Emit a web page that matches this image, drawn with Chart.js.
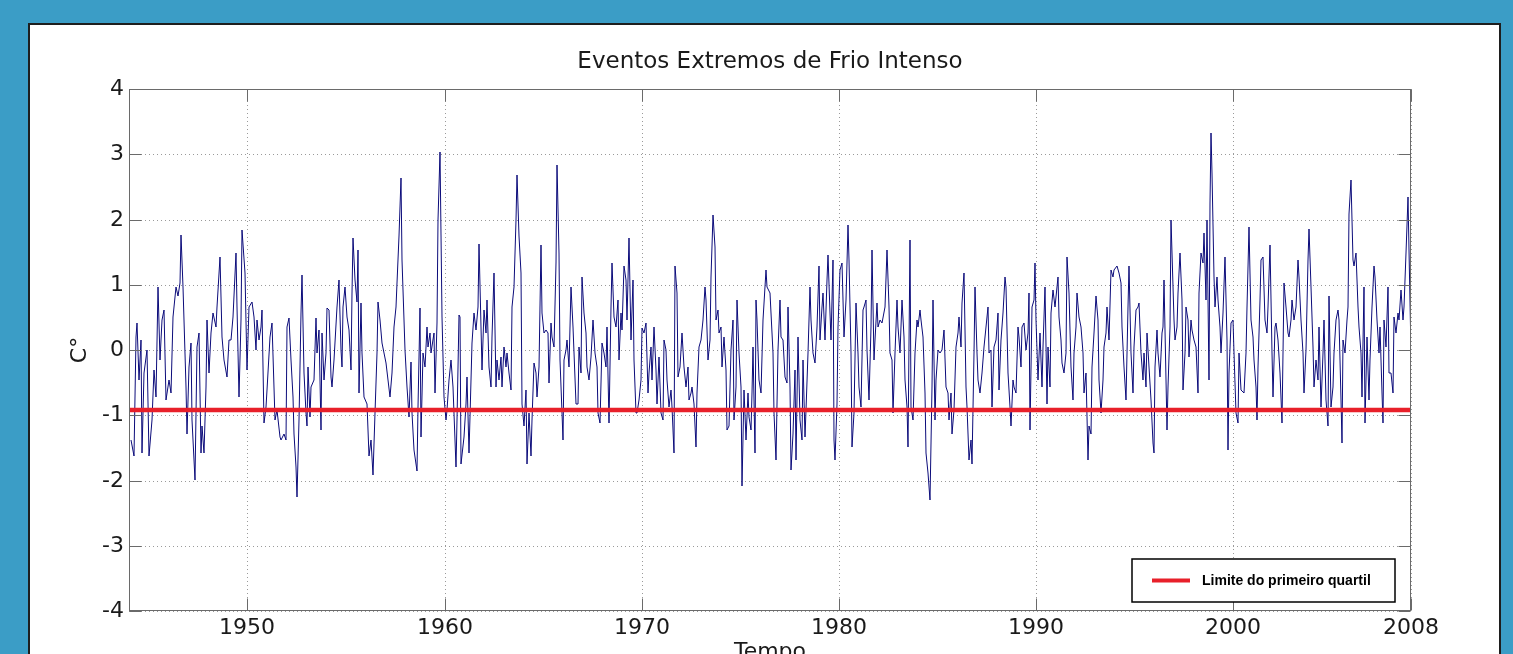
<!DOCTYPE html>
<html>
<head>
<meta charset="utf-8">
<script src="https://cdn.jsdelivr.net/npm/chart.js@4.4.1/dist/chart.umd.min.js"></script>
<style>
  html, body { margin: 0; padding: 0; width: 1513px; height: 654px; overflow: hidden; background: #3b9dc6; }
  #painel { position: absolute; left: 28px; top: 23px; width: 1469px; height: 700px; background: #fff; border: 2px solid #1e1e1e; }
  #grafico { position: absolute; left: 0; top: 0; }
</style>
</head>
<body>
<div id="painel"></div>
<canvas id="grafico" width="1513" height="654"></canvas>
<script>
const titulo = 'Eventos Extremos de Frio Intenso';
const rotuloX = 'Tempo';
const rotuloY = 'C°';
const ticksX = [1950, 1960, 1970, 1980, 1990, 2000, 2009];
const rotulosX = ['1950', '1960', '1970', '1980', '1990', '2000', '2008'];
const ticksY = [-4, -3, -2, -1, 0, 1, 2, 3, 4];
const limiteQuartil = -0.92;
const nomeLimite = 'Limite do primeiro quartil';

// anos (decimal) e anomalias
const anos = [
  1944.09,1944.26,1944.34,1944.42,1944.51,1944.59,1944.68,1944.76,1944.90,1945.02,
  1945.19,1945.27,1945.35,1945.47,1945.57,1945.69,1945.78,1945.86,1946.03,1946.11,
  1946.25,1946.37,1946.49,1946.59,1946.66,1946.76,1946.88,1946.96,1947.04,1947.13,
  1947.21,1947.33,1947.43,1947.55,1947.64,1947.72,1947.81,1947.89,1947.97,1948.06,
  1948.14,1948.28,1948.40,1948.48,1948.62,1948.73,1948.82,1948.95,1949.07,1949.19,
  1949.29,1949.41,1949.50,1949.58,1949.66,1949.75,1949.87,1949.97,1950.09,1950.22,
  1950.34,1950.43,1950.51,1950.59,1950.68,1950.76,1950.85,1950.93,1951.02,1951.14,
  1951.27,1951.39,1951.52,1951.66,
  1951.69,1951.86,1951.95,1952.03,1952.12,1952.20,1952.29,1952.37,1952.45,1952.54,
  1952.62,1952.71,1952.79,1952.88,1952.96,1953.01,1953.08,1953.18,1953.25,1953.38,
  1953.47,1953.55,1953.64,1953.69,1953.76,1953.81,1953.89,1953.98,1954.06,1954.14,
  1954.23,1954.31,1954.40,1954.53,1954.65,1954.74,1954.79,1954.87,1954.94,1955.04,
  1955.16,1955.24,1955.29,1955.36,1955.45,1955.55,1955.61,1955.68,1955.75,1955.83,
  1955.92,1956.05,1956.17,1956.29,1956.39,1956.48,1956.56,1956.65,1956.73,1956.85,
  1957.02,1957.14,1957.22,1957.31,1957.44,1957.53,1957.61,1957.69,1957.78,1957.86,
  1957.98,1958.08,1958.20,1958.29,1958.37,1958.45,1958.59,1958.66,1958.74,1958.83,
  1958.93,1959.01,1959.10,1959.16,1959.25,1959.33,1959.44,1959.50,1959.60,1959.69,
  1959.77,
  1959.89,1959.98,1960.06,1960.14,1960.23,1960.35,1960.45,1960.57,1960.65,1960.74,
  1960.79,1960.85,1960.96,1961.07,1961.16,1961.24,1961.33,1961.41,1961.50,1961.58,
  1961.67,1961.75,1961.83,1961.92,1962.00,1962.09,1962.17,1962.26,1962.34,1962.43,
  1962.51,1962.60,1962.68,1962.76,1962.85,1962.93,1963.02,1963.10,1963.19,1963.27,
  1963.36,1963.42,1963.53,1963.61,1963.69,1963.78,1963.86,1963.95,1964.03,1964.12,
  1964.20,1964.29,1964.37,1964.45,1964.54,1964.62,1964.71,1964.79,1964.88,1964.96,
  1965.05,1965.13,1965.22,1965.30,1965.38,1965.47,1965.55,1965.65,1965.72,1965.81,
  1965.86,1965.93,1966.01,1966.06,1966.15,1966.23,1966.31,1966.43,1966.53,1966.65,
  1966.74,1966.82,1966.91,1966.99,1967.07,1967.16,1967.24,1967.33,1967.41,1967.53,
  1967.62,1967.72,1967.78,1967.87,
  1968.00,1968.09,1968.17,1968.26,1968.34,1968.43,1968.51,1968.60,1968.68,1968.77,
  1968.85,1968.93,1969.02,1969.10,1969.19,1969.27,1969.36,1969.44,1969.53,1969.61,
  1969.70,1969.78,1969.86,1969.95,1970.03,1970.12,1970.20,1970.29,1970.37,1970.46,
  1970.54,1970.62,1970.71,1970.79,1970.88,1970.96,1971.05,1971.13,1971.22,1971.30,
  1971.39,1971.47,1971.55,1971.64,1971.69,1971.77,1971.86,1971.94,1972.06,1972.15,
  1972.23,1972.32,1972.40,1972.48,1972.57,1972.65,1972.74,1972.82,1972.91,1972.99,
  1973.08,1973.19,1973.28,1973.36,1973.45,1973.53,1973.62,1973.70,1973.75,1973.84,
  1973.92,1974.01,1974.09,1974.17,1974.26,1974.34,1974.43,1974.51,1974.60,1974.68,
  1974.77,1974.85,1974.94,1975.02,1975.10,1975.19,1975.27,1975.36,1975.44,1975.53,
  1975.61,1975.66,1975.73,1975.80,1975.86,1975.95,
  1976.03,1976.17,1976.29,1976.37,1976.51,1976.63,1976.71,1976.78,1976.84,1976.91,
  1977.00,1977.08,1977.17,1977.25,1977.34,1977.42,1977.50,1977.59,1977.67,1977.76,
  1977.84,1977.93,1978.01,1978.10,1978.18,1978.26,1978.35,1978.43,1978.52,1978.60,
  1978.70,1978.79,1978.87,1978.96,1979.04,1979.13,1979.21,1979.30,1979.38,1979.45,
  1979.52,1979.58,1979.67,1979.75,1979.80,1979.89,1979.97,1980.06,1980.17,1980.26,
  1980.34,1980.46,1980.53,1980.60,1980.68,1980.77,1980.85,1980.94,1981.02,1981.10,
  1981.19,1981.27,1981.36,1981.44,1981.53,1981.61,1981.66,1981.75,1981.83,1981.92,
  1982.00,1982.08,1982.20,1982.32,1982.42,1982.51,1982.59,1982.68,1982.76,1982.85,
  1982.93,1983.01,1983.10,1983.18,1983.27,1983.35,1983.47,1983.52,1983.59,1983.67,
  1983.76,1983.84,1983.93,1984.01,1984.10,
  1984.15,1984.28,1984.35,1984.43,1984.52,1984.60,1984.69,1984.77,1984.86,1984.94,
  1985.03,1985.11,1985.20,1985.33,1985.41,1985.50,1985.58,1985.67,1985.75,1985.84,
  1985.92,1986.01,1986.09,1986.18,1986.26,1986.34,1986.43,1986.51,1986.60,1986.68,
  1986.75,1986.82,1986.90,1986.99,1987.07,1987.16,1987.24,1987.36,1987.44,1987.53,
  1987.61,1987.70,1987.78,1987.87,1987.95,1988.04,1988.12,1988.20,1988.32,1988.41,
  1988.49,1988.58,1988.66,1988.73,1988.81,1988.88,1988.96,1989.05,1989.13,1989.22,
  1989.30,1989.39,1989.47,1989.56,1989.64,1989.69,1989.78,1989.86,1989.93,1990.01,
  1990.10,1990.18,1990.27,1990.35,1990.44,1990.52,1990.60,1990.69,1990.77,1990.86,
  1990.94,1991.08,1991.16,1991.25,1991.33,1991.42,1991.50,1991.58,1991.67,1991.75,
  1991.84,1991.92,1992.01,1992.09,1992.18,
  1992.26,1992.35,1992.43,1992.51,1992.60,1992.68,1992.77,1992.85,1992.94,1993.02,
  1993.11,1993.19,1993.28,1993.36,1993.44,1993.53,1993.61,1993.70,1993.78,1993.87,
  1993.95,1994.07,1994.21,1994.29,1994.37,1994.46,1994.54,1994.63,1994.71,1994.80,
  1994.88,1994.97,1995.05,1995.14,1995.22,1995.30,1995.39,1995.47,1995.56,1995.64,
  1995.73,1995.81,1995.90,1995.95,1996.01,1996.10,1996.18,1996.27,1996.35,1996.44,
  1996.49,1996.57,1996.62,1996.69,1996.76,1996.83,1996.89,1996.96,1997.04,1997.13,
  1997.21,1997.30,1997.37,1997.43,1997.52,1997.60,1997.67,1997.75,1997.84,1997.92,
  1998.01,1998.09,1998.18,1998.26,1998.35,1998.43,1998.52,1998.60,1998.68,1998.75,
  1998.82,1998.87,1998.92,1998.99,1999.07,1999.16,1999.22,1999.31,1999.39,1999.48,
  1999.56,1999.65,1999.70,1999.78,1999.87,1999.95,2000.04,2000.12,2000.21,2000.29,
  2000.37,2000.54,2000.63,2000.71,2000.80,2000.88,2000.97,2001.05,2001.14,2001.19,
  2001.25,2001.34,2001.42,2001.51,2001.59,2001.68,2001.76,2001.85,2001.93,2002.01,
  2002.10,2002.18,2002.27,2002.35,2002.44,2002.52,2002.57,2002.66,2002.74,2002.83,
  2002.91,2002.99,2003.08,2003.16,2003.25,2003.33,2003.42,2003.50,2003.59,2003.67,
  2003.76,2003.84,2003.92,2004.01,2004.09,2004.18,2004.26,2004.35,2004.43,2004.52,
  2004.60,2004.68,2004.77,2004.85,2004.94,2005.02,2005.11,2005.19,2005.28,2005.36,
  2005.45,2005.50,2005.56,2005.65,2005.73,2005.82,2005.88,2005.95,2006.04,2006.12,
  2006.21,2006.29,2006.38,2006.46,2006.54,2006.63,2006.68,2006.76,2006.85,2006.93,
  2007.02,2007.10,2007.19,2007.27,2007.36,2007.44,2007.51,2007.56,2007.64,2007.73,
  2007.81,2007.90,2007.98,2008.07,2008.15,2008.24,2008.32,2008.40,2008.49,2008.57,
  2008.66,2008.74,2008.83,2008.91,2008.99
];

const anomalias = [
  -1.38,-1.63,0.20,0.41,-0.46,0.15,-1.58,-0.36,0.00,-1.63,
  -1.07,-0.30,-0.72,0.97,-0.15,0.46,0.61,-0.77,-0.46,-0.66,
  0.51,0.97,0.82,1.02,1.76,0.97,-0.56,-1.28,-0.26,0.10,
  -1.07,-1.99,0.05,0.26,-1.58,-1.17,-1.58,-0.56,0.46,-0.36,
  0.26,0.56,0.36,0.66,1.43,0.20,-0.15,-0.41,0.15,0.15,
  0.51,1.48,0.66,-0.72,0.46,1.84,1.18,-0.30,0.66,0.74,
  0.51,0.00,0.46,0.15,0.36,0.61,-1.12,-0.87,-0.61,0.20,
  0.41,-1.07,-0.92,-1.33,
  -1.38,-1.28,-1.38,0.36,0.49,-0.15,-0.72,-1.28,-1.79,-2.25,
  -1.07,0.56,1.15,-0.36,-0.97,-1.17,-0.26,-1.02,-0.56,-0.46,
  0.49,-0.05,0.31,-0.46,-1.23,0.26,-0.46,-0.05,0.64,0.61,
  -0.41,-0.56,-0.15,0.66,1.07,0.00,-0.26,0.66,0.97,0.51,
  0.31,-0.30,0.87,1.71,1.07,0.74,1.53,-0.66,0.72,-0.05,
  -0.72,-0.82,-1.63,-1.38,-1.92,-0.97,-0.05,0.74,0.46,0.10,
  -0.20,-0.46,-0.72,-0.36,0.36,0.66,1.02,1.74,2.63,1.38,
  0.00,-0.56,-1.02,-0.18,-0.97,-1.53,-1.86,-0.87,0.64,-1.33,
  -0.05,-0.26,0.36,0.05,0.26,-0.05,0.26,-0.66,0.41,1.99,
  3.04,
  0.51,-0.72,-1.07,-0.92,-0.46,-0.15,-0.56,-1.79,-1.07,0.54,
  0.51,-1.74,-1.33,-0.82,-0.41,-1.58,-0.46,0.10,0.56,0.31,
  0.66,1.63,0.36,-0.30,0.61,0.26,0.77,-0.26,-0.56,0.20,
  1.18,-0.56,-0.15,-0.46,-0.10,-0.56,0.05,-0.26,-0.05,-0.36,
  -0.61,0.66,0.97,1.99,2.68,1.74,1.18,-0.82,-1.17,-0.61,
  -1.74,-0.97,-1.63,-1.07,-0.20,-0.36,-0.72,-0.26,1.61,0.56,
  0.26,0.31,0.26,-0.51,0.41,0.20,0.05,1.33,2.84,1.48,
  -0.15,-0.97,-1.38,-0.15,0.00,0.15,-0.26,0.97,0.36,-0.82,
  -0.82,0.05,-0.36,1.12,0.56,0.26,-0.26,-0.46,-0.10,0.46,
  -0.05,-0.26,-0.97,-1.12,
  0.10,-0.05,-0.26,0.36,-1.12,0.66,1.33,0.51,0.36,0.77,
  -0.15,0.56,0.31,1.28,1.07,0.46,1.71,0.15,1.07,-0.15,
  -0.97,-0.97,-0.77,-0.46,0.33,0.26,0.41,-0.66,-0.36,0.05,
  -0.46,0.36,-0.30,-0.82,-0.10,-0.97,-1.07,0.15,0.00,-0.46,
  -0.87,-0.61,-0.87,-1.58,1.28,0.87,-0.41,-0.26,0.26,-0.26,
  -0.56,-0.26,-0.77,-0.66,-0.56,-0.82,-1.48,-0.66,0.05,0.15,
  0.46,0.97,0.77,-0.15,0.15,1.12,2.07,1.58,0.46,0.61,
  0.26,0.36,-0.26,0.20,-0.30,-1.23,-1.17,0.00,0.46,-1.07,
  -0.56,0.77,-0.05,-0.56,-2.09,-0.61,-1.38,-0.66,-1.02,-1.23,
  -0.66,0.05,-1.58,0.77,0.46,-0.46,
  -0.66,0.46,1.23,0.97,0.87,-0.05,-0.97,-1.69,-0.82,0.00,
  0.77,0.20,0.15,-0.41,-0.51,0.66,-0.56,-1.84,-1.28,-0.30,
  -1.69,0.20,-1.07,-1.38,-0.15,-1.33,-0.92,-0.05,0.97,0.46,
  -0.05,-0.20,0.36,1.28,0.15,0.66,0.87,0.15,1.07,1.46,
  0.56,0.15,1.38,-1.38,-1.69,-0.82,0.36,1.23,1.33,0.20,
  0.77,1.92,1.38,-0.05,-1.48,-0.97,0.72,-0.05,-0.56,-0.87,
  0.61,0.66,0.77,0.00,-0.77,0.36,1.53,-0.15,0.15,0.72,
  0.36,0.46,0.41,0.66,1.53,0.66,-0.05,-0.15,-0.97,-0.05,
  0.77,0.36,-0.05,0.77,0.20,-0.46,-0.87,-1.48,1.69,-0.87,
  -1.07,-0.05,0.46,0.36,0.61,
  0.46,0.20,-0.66,-1.58,-1.89,-2.30,-0.56,0.77,-1.07,-0.46,
  0.00,-0.05,0.00,0.31,-0.56,-0.66,-1.07,-0.66,-1.28,-0.92,
  0.05,0.26,0.51,0.05,0.72,1.18,-0.56,-0.87,-1.69,-1.38,
  -1.74,-0.05,0.97,-0.05,-0.46,-0.66,-0.36,0.05,0.36,0.66,
  -0.05,0.00,-0.87,0.05,0.15,0.56,-0.61,0.15,0.56,1.12,
  0.97,-0.36,-0.87,-1.17,-0.46,-0.56,-0.66,0.36,0.20,-0.26,
  0.36,0.41,0.00,0.26,0.87,-1.23,0.66,0.77,1.33,0.46,
  -0.46,0.26,-0.56,0.05,0.97,-0.82,0.05,-0.56,0.56,0.92,
  0.66,1.12,0.51,0.15,-0.20,-0.36,-0.05,1.43,0.87,-0.26,
  -0.77,-0.05,0.36,0.87,0.51,
  0.36,-0.05,-0.66,-0.36,-1.69,-1.17,-1.28,-0.26,0.26,0.82,
  0.46,-0.46,-0.97,-0.46,0.05,0.26,0.66,0.15,1.23,1.12,
  1.23,1.28,1.18,1.02,0.36,-0.26,-0.77,0.66,1.28,-0.05,
  -0.66,0.05,0.61,0.66,0.72,-0.05,-0.46,-0.05,-0.56,0.26,
  -0.26,-0.77,-1.43,-1.58,-0.26,0.31,-0.05,-0.41,0.26,0.36,
  1.07,-0.46,-1.23,-0.56,0.36,1.99,1.48,0.46,0.15,0.36,
  0.87,1.48,0.77,-0.61,-0.05,0.66,0.46,-0.10,0.46,0.31,
  0.15,0.05,-0.66,0.87,1.48,1.33,1.79,0.77,1.99,-0.46,
  2.25,3.32,2.71,1.12,0.66,1.12,0.77,0.36,-0.05,0.56,
  1.43,0.15,-1.53,-0.36,0.41,0.46,-0.05,-0.97,-1.12,-0.05,
  -0.61,-0.66,-0.05,0.66,1.89,0.46,0.20,-0.15,-0.56,-1.07,
  -0.26,0.77,1.38,1.43,0.46,0.26,0.66,1.61,-0.05,-0.72,
  0.36,0.41,0.15,-0.36,-1.12,-0.05,1.02,0.66,0.26,0.20,
  0.46,0.77,0.46,0.66,1.38,1.12,0.46,-0.05,-0.66,0.00,
  1.38,1.86,0.97,0.05,-0.56,-0.15,-0.46,0.36,-0.87,-0.05,
  0.46,-0.77,-1.17,0.82,-0.87,-0.56,-0.05,0.46,0.61,0.46,
  -0.77,-1.43,0.15,-0.05,0.46,0.66,2.09,2.61,1.38,1.28,
  1.48,0.66,0.36,-0.05,-0.72,0.97,-1.12,0.20,-0.77,-0.15,
  0.66,1.28,1.12,0.46,-0.05,0.36,-0.66,-1.12,0.46,0.05,
  0.97,-0.36,-0.36,-0.66,0.51,0.26,0.56,0.46,0.92,0.46,
  0.66,1.48,2.35,1.53,-0.05
];

if (anos.length !== anomalias.length) console.error('tamanhos diferentes', anos.length, anomalias.length);

const fonte = 'DejaVu Sans';
const corTexto = '#1a1a1a';
const corMoldura = '#6a6a6a';

const serie = anos.map((a, i) => ({ x: a, y: anomalias[i] }));
const xMin = 1944, xMax = 2009;

// moldura, ticks para dentro e legenda no canto
const molduraPlugin = {
  id: 'moldura',
  afterDraw(chart) {
    const { ctx, chartArea: a, scales } = chart;
    const L = Math.round(a.left) + 0.5, R = Math.round(a.right) - 0.5;
    const T = Math.round(a.top) + 0.5, B = Math.round(a.bottom) - 0.5;
    ctx.save();
    ctx.strokeStyle = corMoldura;
    ctx.lineWidth = 1;
    ctx.strokeRect(L, T, R - L, B - T);
    const tam = 12;
    ctx.beginPath();
    ticksX.forEach(v => {
      const px = Math.round(scales.x.getPixelForValue(v)) + 0.5;
      ctx.moveTo(px, T); ctx.lineTo(px, T + tam);
      ctx.moveTo(px, B); ctx.lineTo(px, B - tam);
    });
    ticksY.forEach(v => {
      const py = Math.round(scales.y.getPixelForValue(v)) + 0.5;
      ctx.moveTo(L, py); ctx.lineTo(L + tam, py);
      ctx.moveTo(R, py); ctx.lineTo(R - tam, py);
    });
    ctx.stroke();

    // legenda
    const ds = chart.data.datasets[0];
    const w = 263, h = 43;
    const bx = Math.round(a.right) - 16 - w, by = Math.round(a.bottom) - 9 - h;
    ctx.fillStyle = '#fff';
    ctx.fillRect(bx, by, w, h);
    ctx.strokeStyle = '#000';
    ctx.lineWidth = 1.5;
    ctx.strokeRect(bx, by, w, h);
    ctx.strokeStyle = ds.borderColor;
    ctx.lineWidth = 4;
    ctx.beginPath();
    ctx.moveTo(bx + 20, by + h / 2);
    ctx.lineTo(bx + 58, by + h / 2);
    ctx.stroke();
    ctx.fillStyle = '#000';
    ctx.font = 'bold 14px "Liberation Sans", Arial, sans-serif';
    ctx.textBaseline = 'middle';
    ctx.textAlign = 'left';
    ctx.fillText(ds.label, bx + 70, by + h / 2 + 1);
    ctx.restore();
  }
};

new Chart(document.getElementById('grafico'), {
  type: 'line',
  data: {
    datasets: [
      {
        label: nomeLimite,
        data: [{ x: xMin, y: limiteQuartil }, { x: xMax, y: limiteQuartil }],
        borderColor: '#e8202a',
        borderWidth: 4.5,
        pointRadius: 0,
        fill: false
      },
      {
        label: 'Anomalia',
        data: serie,
        borderColor: '#0b0b7a',
        borderWidth: 1,
        pointRadius: 0,
        tension: 0,
        fill: false
      }
    ]
  },
  options: {
    responsive: false,
    animation: false,
    events: [],
    layout: { padding: { left: 0, right: 102, top: 0, bottom: 0 } },
    plugins: {
      legend: { display: false },
      tooltip: { enabled: false },
      title: {
        display: true,
        text: titulo,
        fullSize: false,
        color: corTexto,
        font: { family: fonte, size: 23, weight: 'normal' },
        padding: { top: 48, bottom: 13.4 }
      }
    },
    scales: {
      x: {
        type: 'linear',
        min: xMin,
        max: xMax,
        alignToPixels: true,
        afterBuildTicks: s => { s.ticks = ticksX.map(v => ({ value: v })); },
        afterFit: s => { s.height = 43; },
        ticks: {
          autoSkip: false,
          maxRotation: 0,
          padding: 4,
          color: corTexto,
          font: { family: fonte, size: 22 },
          callback: (v, i) => rotulosX[i]
        },
        grid: { color: '#9a9a9a', lineWidth: 1, drawTicks: false },
        border: { display: false, dash: [1, 3] },
        title: {
          display: true,
          text: rotuloX,
          color: corTexto,
          font: { family: fonte, size: 22 },
          padding: { top: 0, bottom: -11 }
        }
      },
      y: {
        type: 'linear',
        min: -4,
        max: 4,
        alignToPixels: true,
        afterBuildTicks: s => { s.ticks = ticksY.map(v => ({ value: v })); },
        afterFit: s => { s.width = 129; },
        ticks: {
          padding: 5,
          color: corTexto,
          font: { family: fonte, size: 22 },
          callback: v => String(v)
        },
        grid: { color: '#9a9a9a', lineWidth: 1, drawTicks: false },
        border: { display: false, dash: [1, 3] },
        title: {
          display: true,
          text: rotuloY,
          color: corTexto,
          font: { family: fonte, size: 22 },
          padding: { top: 67, bottom: 0 }
        }
      }
    }
  },
  plugins: [molduraPlugin]
});
</script>
</body>
</html>
